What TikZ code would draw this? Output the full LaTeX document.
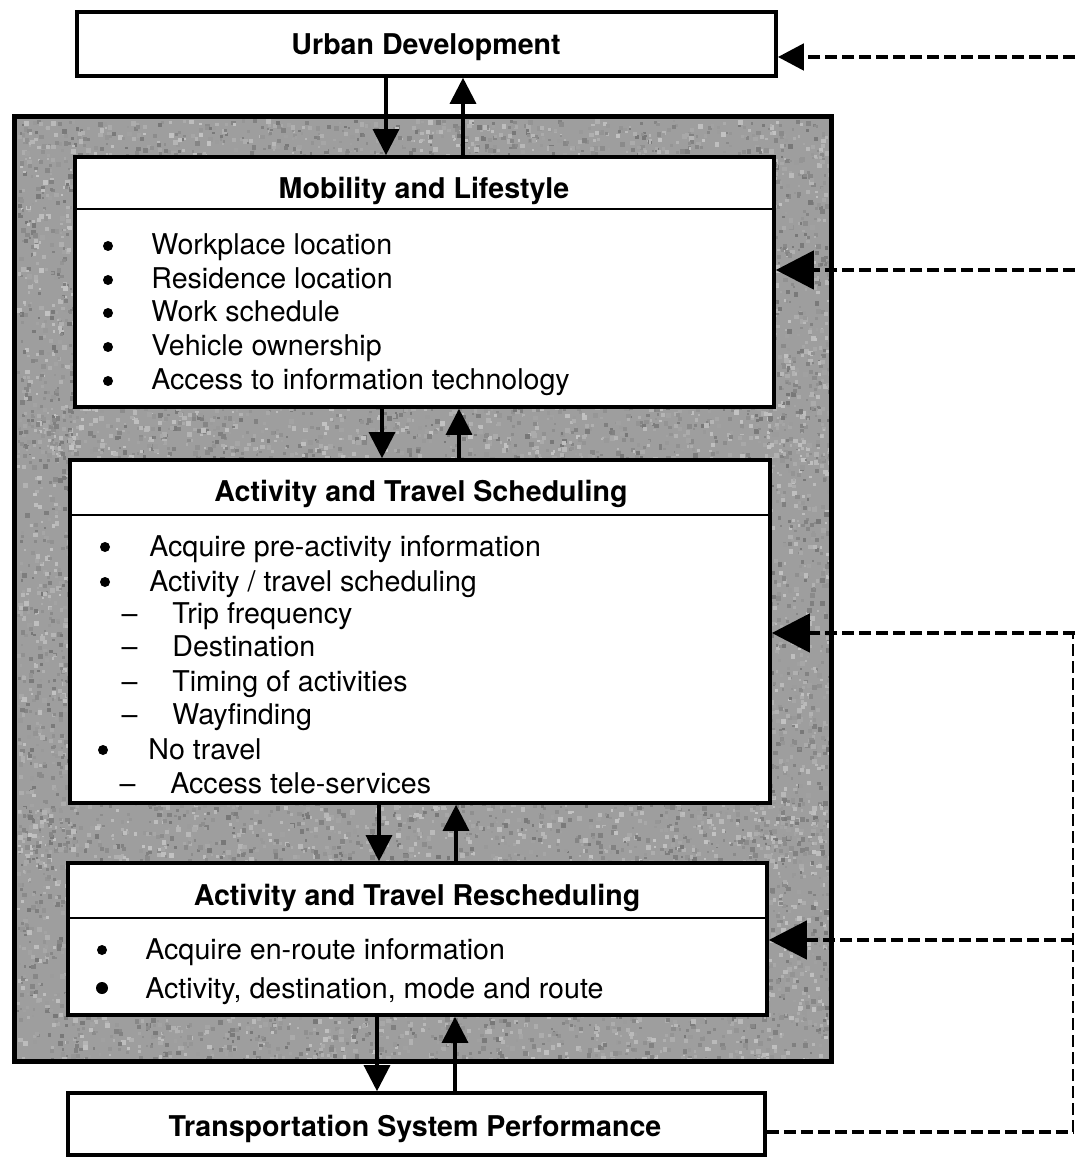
\documentclass[tikz,border=0pt]{standalone}
\usepackage{fontspec}
\setmainfont{TeX Gyre Heros}
\usetikzlibrary{arrows.meta,fit}
\begin{document}
\begin{tikzpicture}[x=0.5pt,y=-0.5pt,
  box/.style={draw,line width=1.8pt,fill=white,inner sep=0pt},
  frm/.style={line width=2.5pt,inner sep=0pt},
  ttl/.style={font=\fontsize{14.3}{17}\bfseries\selectfont,anchor=base,inner sep=0pt},
  itm/.style={font=\fontsize{14.3}{17}\selectfont,anchor=base west,inner sep=0pt},
  dsh/.style={font=\fontsize{14.3}{17}\selectfont,anchor=base,inner sep=0pt},
  dot/.style={circle,fill=black,inner sep=0pt,minimum size=5pt},
  sep/.style={line width=1pt},
  link/.style={line width=1.6pt,-{Triangle[width=13pt,length=13pt]}},
  fbline/.style={line width=2.4pt,dash pattern=on 6pt off 2.5pt},
  fbthin/.style={line width=1.3pt,dash pattern=on 6pt off 2.5pt},
  fbbig/.style={fbline,-{Triangle[width=19pt,length=19pt]}},
  fbsmall/.style={fbline,-{Triangle[width=13pt,length=13pt]}},
]
\useasboundingbox (0,0) rectangle (1075,1159);
\fill[white] (0,0) rectangle (1075,1159);

% shaded frame with a fine grain
\node[frm, fill=black!38, fit={(17,119) (829,1059)}] (frame) {};
\begin{scope}
  \clip (frame.south west) rectangle (frame.north east);
  \pgfmathsetseed{42}
  \foreach \sx/\sy/\sw/\sh/\sn in {17/119/812/38/700, 17/405/812/57/1000,
      17/801/812/64/1100, 17/1013/812/46/800, 17/157/58/858/1050, 766/157/63/858/1150}{
    \foreach \k in {1,...,\sn}{
      \pgfmathsetmacro\px{\sx+\sw*rnd}
      \pgfmathsetmacro\py{\sy+\sh*rnd}
      \pgfmathsetmacro\ps{2+3*rnd}
      \pgfmathtruncatemacro\g{24+30*rnd}
      \fill[black!\g] (\px,\py) rectangle ++(\ps,\ps);
    }
  }
\end{scope}
\draw[line width=2.5pt] (frame.south west) rectangle (frame.north east);

% boxes
\node[box, fit={(77,12) (776,76)}] (ud) {};
\node[box, fit={(75,157) (774,407)}] (ml) {};
\node[box, fit={(70,460) (770,803)}] (ats) {};
\node[box, fit={(68,863) (767,1015)}] (atr) {};
\node[box, fit={(68,1093) (765,1155)}] (tsp) {};

% header separators
\coordinate (h1) at (0,209);
\coordinate (h2) at (0,515);
\coordinate (h3) at (0,918);
\draw[sep] (ml.west |- h1) -- (ml.east |- h1);
\draw[sep] (ats.west |- h2) -- (ats.east |- h2);
\draw[sep] (atr.west |- h3) -- (atr.east |- h3);

% titles
\node[ttl] (udt) at (426,55) {Urban Development};
\node[ttl] (mlt) at (424,199) {Mobility and Lifestyle};
\node[ttl] (atst) at (421,502) {Activity and Travel Scheduling};
\node[ttl] (atrt) at (417,905) {Activity and Travel Rescheduling};
\node[ttl] (tspt) at (415,1136) {Transportation System Performance};

% Mobility and Lifestyle items
\foreach \y/\txt [count=\i] in {255/Workplace location,289/Residence location,
  322/Work schedule,356/Vehicle ownership,390/Access to information technology}{
  \node[dot] (mb\i) at (108,\y-9) {};
  \node[itm] (mt\i) at (151,\y) {\txt};
}

% Activity and Travel Scheduling items
\node[dot] (sb1) at (105,547) {};
\node[itm] (st1) at (149,556) {Acquire pre-activity information};
\node[dot] (sb2) at (105,582) {};
\node[itm] (st2) at (149,591) {Activity / travel scheduling};
\foreach \y/\txt [count=\i] in {623/Trip frequency,656/Destination,
  691/Timing of activities,724/Wayfinding}{
  \node[dsh] (sd\i) at (129.5,\y) {--};
  \node[itm] (ss\i) at (172,\y) {\txt};
}
\node[dot] (sb3) at (103,750) {};
\node[itm] (st3) at (148,759) {No travel};
\node[dsh] (sd5) at (127.5,793) {--};
\node[itm] (ss5) at (170,793) {Access tele-services};

% Activity and Travel Rescheduling items
\node[dot] (rb1) at (102,950) {};
\node[itm] (rt1) at (145,959) {Acquire en-route information};
\node[dot, minimum size=6pt] (rb2) at (102,988) {};
\node[itm] (rt2) at (145,998) {Activity, destination, mode and route};

% two-way links between the levels
\coordinate (d1) at (386,0); \coordinate (u1) at (463,0);
\coordinate (d2) at (382,0); \coordinate (u2) at (459,0);
\coordinate (d3) at (379,0); \coordinate (u3) at (456,0);
\coordinate (d4) at (377,0); \coordinate (u4) at (455,0);
\draw[link] (ud.south -| d1) -- (ml.north -| d1);
\draw[link] (ml.north -| u1) -- (ud.south -| u1);
\draw[link] (ml.south -| d2) -- (ats.north -| d2);
\draw[link] (ats.north -| u2) -- (ml.south -| u2);
\draw[link] (ats.south -| d3) -- (atr.north -| d3);
\draw[link] (atr.north -| u3) -- (ats.south -| u3);
\draw[link] (atr.south -| d4) -- (tsp.north -| d4);
\draw[link] (tsp.north -| u4) -- (atr.south -| u4);

% feedback from system performance
\coordinate (f1) at (1075,57);
\coordinate (f2) at (1075,270);
\coordinate (f3) at (1075,633);
\coordinate (f4) at (1073,940);
\coordinate (f5) at (1073,1132);
\coordinate (v3) at (1073,633);
\draw[fbsmall] (f1) -- (ud.east |- f1);
\draw[fbbig] (f2) -- (ml.east |- f2);
\draw[fbbig] (f3) -- (ats.east |- f3);
\draw[fbbig] (f4) -- (atr.east |- f4);
\draw[fbline] (tsp.east |- f5) -- (f5);
\draw[fbthin] (f5) -- (v3);
\end{tikzpicture}
\end{document}
